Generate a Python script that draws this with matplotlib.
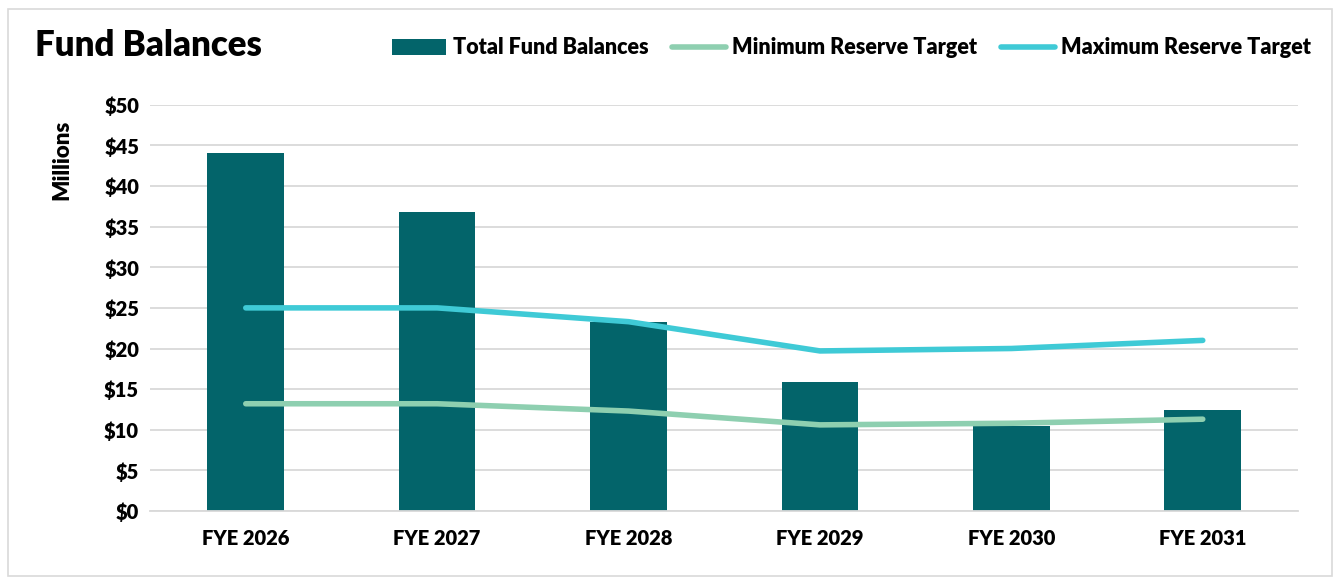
import numpy as np
from matplotlib import pyplot as plt
from matplotlib.patches import Rectangle

plt.rcParams['font.family'] = ['Lato', 'DejaVu Sans']
plt.rcParams['font.weight'] = 'heavy'

years = ['FYE 2026', 'FYE 2027', 'FYE 2028', 'FYE 2029', 'FYE 2030', 'FYE 2031']
total_fund = [44.1, 36.8, 23.3, 15.9, 10.5, 12.4]
min_reserve = [13.2, 13.2, 12.3, 10.6, 10.8, 11.3]
max_reserve = [25.0, 25.0, 23.3, 19.7, 20.0, 21.0]
yticks = [0, 5, 10, 15, 20, 25, 30, 35, 40, 45, 50]

bar_col = '#03646a'
min_col = '#8ecfb0'
max_col = '#3fcad6'

fig = plt.figure(figsize=(13.4, 5.82), dpi=100)
fig.patches.append(Rectangle((0.006, 0.01), 0.988, 0.975, transform=fig.transFigure,
                             fill=False, edgecolor='#d9d9d9', linewidth=1.2))
ax = fig.add_axes([0.112, 0.122, 0.857, 0.698])

x = np.arange(len(years))
b = ax.bar(x, total_fund, width=0.40, color=bar_col, label='Total Fund Balances', zorder=2)
l1, = ax.plot(x, min_reserve, color=min_col, lw=4, solid_capstyle='round', label='Minimum Reserve Target', zorder=3)
l2, = ax.plot(x, max_reserve, color=max_col, lw=4, solid_capstyle='round', label='Maximum Reserve Target', zorder=3)

ax.set_xlim(-0.5, len(years) - 0.5)
ax.set_ylim(0, 50)
ax.set_yticks(yticks)
ax.set_yticklabels(['$' + str(t) for t in yticks])
ax.set_xticks(x)
ax.set_xticklabels(years)
ax.tick_params(axis='both', length=0, labelsize=14.5)
ax.tick_params(axis='x', pad=13)
ax.tick_params(axis='y', pad=8)
ax.grid(axis='y', color='#d9d9d9', lw=1.3, zorder=0)
for s in ['top', 'right', 'left']:
    ax.spines[s].set_visible(False)
ax.spines['bottom'].set_color('#d9d9d9')
ax.spines['bottom'].set_linewidth(1.3)

ax.set_ylabel('Millions', fontsize=16, fontweight='heavy')
ax.yaxis.set_label_coords(-0.068, 0.865)

fig.text(0.026, 0.922, 'Fund Balances', fontsize=25, fontweight='heavy', va='center', ha='left')

fig.legend([b, l1, l2], [b.get_label(), l1.get_label(), l2.get_label()],
           loc='center right', bbox_to_anchor=(0.993, 0.918), ncol=3, frameon=False,
           fontsize=15.5, handlelength=2.5, handleheight=0.75, columnspacing=1.1, handletextpad=0.3)

fig.savefig('out.png', dpi=100)
